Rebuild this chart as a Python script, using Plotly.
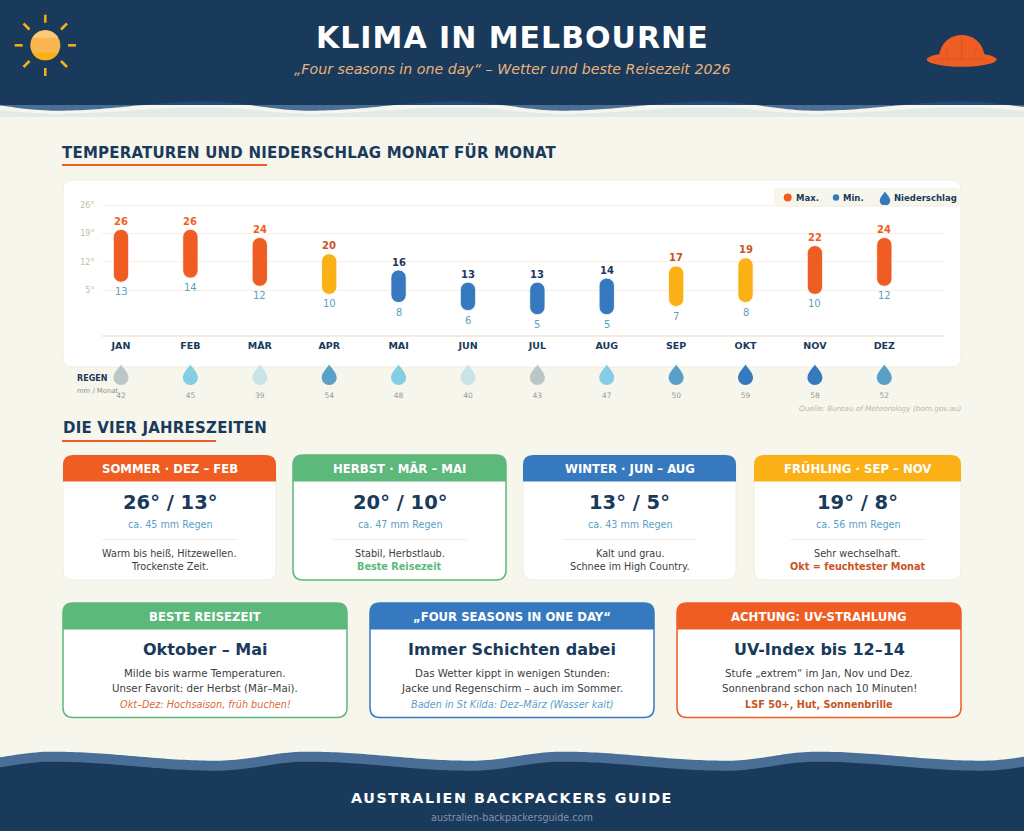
import math
import plotly.graph_objects as go

# Daten
MONATE = ['JAN', 'FEB', 'MÄR', 'APR', 'MAI', 'JUN', 'JUL', 'AUG', 'SEP', 'OKT', 'NOV', 'DEZ']
TEMP_MAX = [26, 26, 24, 20, 16, 13, 13, 14, 17, 19, 22, 24]
TEMP_MIN = [13, 14, 12, 10, 8, 6, 5, 5, 7, 8, 10, 12]
REGEN = [42, 45, 39, 54, 48, 40, 43, 47, 50, 59, 58, 52]
ACHSE_WERTE = [32, 25, 18, 11]
ACHSE_TEXTE = ['26°', '19°', '12°', '5°']

ZEIT_TITEL = ['SOMMER · DEZ – FEB', 'HERBST · MÄR – MAI', 'WINTER · JUN – AUG', 'FRÜHLING · SEP – NOV']
ZEIT_TEMP = ['26° / 13°', '20° / 10°', '13° / 5°', '19° / 8°']
ZEIT_REGEN = ['ca. 45 mm Regen', 'ca. 47 mm Regen', 'ca. 43 mm Regen', 'ca. 56 mm Regen']
ZEIT_ZEILE1 = ['Warm bis heiß, Hitzewellen.', 'Stabil, Herbstlaub.', 'Kalt und grau.', 'Sehr wechselhaft.']
ZEIT_ZEILE2 = ['Trockenste Zeit.', 'Beste Reisezeit', 'Schnee im High Country.', 'Okt = feuchtester Monat']

TIPP_TITEL = ['BESTE REISEZEIT', '„FOUR SEASONS IN ONE DAY“', 'ACHTUNG: UV-STRAHLUNG']
TIPP_GROSS = ['Oktober – Mai', 'Immer Schichten dabei', 'UV-Index bis 12–14']
TIPP_ZEILE1 = ['Milde bis warme Temperaturen.', 'Das Wetter kippt in wenigen Stunden:', 'Stufe „extrem“ im Jan, Nov und Dez.']
TIPP_ZEILE2 = ['Unser Favorit: der Herbst (Mär–Mai).', 'Jacke und Regenschirm – auch im Sommer.', 'Sonnenbrand schon nach 10 Minuten!']
TIPP_HINWEIS = ['Okt–Dez: Hochsaison, früh buchen!', 'Baden in St Kilda: Dez–März (Wasser kalt)', 'LSF 50+, Hut, Sonnenbrille']

# Farben
NAVY = '#1a3a5c'
CREME = '#f7f6ec'
ORANGE = '#f05d23'
ROST = '#c8541f'
GELB = '#fbb116'
BLAU = '#3679bf'
GRUEN = '#5db87b'
HELLBLAU = '#5a9fc6'
WELLE = '#4a6f96'
RAND = '#f1ece0'
SCHRIFT = 'DejaVu Sans'
B, H = 1024, 831


def balken_farbe(t):
    if t >= 22:
        return ORANGE
    return GELB if t >= 17 else BLAU


def label_farbe(t):
    if t >= 22:
        return ORANGE
    return ROST if t >= 17 else NAVY


def tropfen_farbe(mm):
    if mm >= 58:
        return BLAU
    if mm >= 50:
        return HELLBLAU
    if mm >= 45:
        return '#85cde3'
    return '#bcc5c8' if mm >= 42 else '#c8e3ea'


fig = go.Figure()
formen = []
texte = []


def form(pfad, farbe, linie=None, breite=0):
    formen.append(dict(type='path', xref='x', yref='y', layer='below', path=pfad, fillcolor=farbe,
                       line=dict(color=linie or farbe, width=breite)))


def strich(x0, y0, x1, y1, farbe, breite=1):
    formen.append(dict(type='line', xref='x', yref='y', layer='below', x0=x0, y0=y0, x1=x1, y1=y1,
                       line=dict(color=farbe, width=breite)))


def kreis(cx, cy, r, farbe):
    formen.append(dict(type='circle', xref='x', yref='y', layer='below', x0=cx - r, x1=cx + r, y0=cy - r, y1=cy + r,
                       fillcolor=farbe, line=dict(width=0)))


def text(x, y, s, groesse, farbe, fett=False, kursiv=False, anker='center', abstand=0):
    if abstand:
        s = f'<span style="letter-spacing:{abstand}px">{s}</span>'
    texte.append(dict(xref='x', yref='y', x=x, y=y, text=s, showarrow=False, xanchor=anker, yanchor='middle',
                      borderpad=0, borderwidth=0,
                      font=dict(family=SCHRIFT, size=groesse, color=farbe, weight='bold' if fett else 'normal',
                                style='italic' if kursiv else 'normal')))


def wert_label(monat, wert, verschiebung, farbe, fett):
    texte.append(dict(xref='x2', yref='y2', x=monat, y=wert, yshift=verschiebung, text=str(wert), showarrow=False,
                      xanchor='center', yanchor='middle', borderpad=0, borderwidth=0,
                      font=dict(family=SCHRIFT, size=10, color=farbe, weight='bold' if fett else 'normal')))


def rund(x0, y0, x1, y1, r, unten=True):
    p = f'M{x0 + r},{y0} L{x1 - r},{y0} Q{x1},{y0} {x1},{y0 + r} '
    if unten:
        p += f'L{x1},{y1 - r} Q{x1},{y1} {x1 - r},{y1} L{x0 + r},{y1} Q{x0},{y1} {x0},{y1 - r} '
    else:
        p += f'L{x1},{y1} L{x0},{y1} '
    return p + f'L{x0},{y0 + r} Q{x0},{y0} {x0 + r},{y0} Z'


def welle(x, spitze, periode, fall, y_oben, y_unten):
    pos = (x - spitze) % periode
    if pos < fall:
        anteil = (1 - math.cos(math.pi * pos / fall)) / 2
    else:
        anteil = (1 + math.cos(math.pi * (pos - fall) / (periode - fall))) / 2
    return y_oben + (y_unten - y_oben) * anteil


def flaeche(oben, unten):
    xs = list(range(0, B + 4, 4))
    p = 'M' + ' L'.join(f'{x},{oben(x):.2f}' for x in xs)
    p += ' L' + ' L'.join(f'{x},{unten(x):.2f}' for x in reversed(xs))
    return p + ' Z'


def tropfen(s=1.0):
    return (f'M0,{13 * s} C{1.5 * s},{10 * s} {7.5 * s},{5 * s} {7.5 * s},0 '
            f'C{7.5 * s},{-4.1 * s} {4.1 * s},{-7.5 * s} 0,{-7.5 * s} '
            f'C{-4.1 * s},{-7.5 * s} {-7.5 * s},{-4.1 * s} {-7.5 * s},0 '
            f'C{-7.5 * s},{5 * s} {-1.5 * s},{10 * s} 0,{13 * s} Z')


# Kopfbereich mit Wellen
w1 = lambda x: welle(x, 205, 253, 105, 101.5, 110.7)
w2 = lambda x: welle(x, 205, 253, 105, 107.3, 113.7)
form(flaeche(w2, lambda x: 117), '#e3eaea')
form(flaeche(lambda x: 105, lambda x: max(w1(x), 105)), WELLE)
form(f'M0,0 L{B},0 L{B},105 L0,105 Z', NAVY)
form(flaeche(lambda x: min(w1(x), 105), lambda x: 105), '#234c78')

# Sonne
kreis(45.3, 45.3, 15, '#f9b64e')
winkel = [3.3 + i * 1.34 for i in range(11)]
oben = [(45.3 - 15 * math.cos(a / 20 * math.pi), 45.3 - 15 * math.sin(a / 20 * math.pi)) for a in winkel]
unten = [(45.3 - 15 * math.cos(a / 20 * math.pi), 45.3 + 15 * math.sin(a / 20 * math.pi)) for a in winkel]
form('M' + ' L'.join(f'{x:.2f},{y:.2f}' for x, y in oben) + ' Z', '#fbc97c')
form('M' + ' L'.join(f'{x:.2f},{y:.2f}' for x, y in unten) + ' Z', GELB)
for x0, y0, x1, y1 in [(45.3, 14.7, 45.3, 22.7), (45.3, 68, 45.3, 76), (14.7, 45.3, 22.7, 45.3), (68, 45.3, 76, 45.3),
                       (23.5, 23.5, 29.5, 29.5), (61, 61, 67, 67), (61, 29.5, 67, 23.5), (23.5, 67, 29.5, 61)]:
    strich(x0, y0, x1, y1, GELB, 2.5)

# Hut
formen.append(dict(type='circle', xref='x', yref='y', layer='below', x0=926.7, x1=996.7, y0=52.5, y1=66.7,
                   fillcolor=ORANGE, line=dict(width=0)))
form('M938.7,59 C939.5,44 949,35 961.7,35 C974.5,35 984,44 985,59 Z', ORANGE)
for x0, y0, x1, y1 in [(961.7, 35, 961.7, 59), (946, 47.7, 949, 59), (976.7, 47.7, 973.3, 59), (938.7, 59, 985, 59)]:
    strich(x0, y0, x1, y1, '#c9502a', 0.7)

text(512, 37, 'KLIMA IN MELBOURNE', 30, 'white', fett=True, abstand=1)
text(512, 69, '„Four seasons in one day“ – Wetter und beste Reisezeit 2026', 14.2, '#e8b27a', kursiv=True)

# Temperatur-Karte
text(62, 152.3, 'TEMPERATUREN UND NIEDERSCHLAG MONAT FÜR MONAT', 15, NAVY, fett=True, anker='left', abstand=0.2)
form('M62,164 L267,164 L267,166 L62,166 Z', ORANGE)
form(rund(63, 180, 961, 367, 10), 'white', RAND, 1)

# Legende
form(rund(774, 188, 961, 207, 5), CREME)
kreis(787.7, 197.5, 4, ORANGE)
text(796, 197.5, 'Max.', 8.5, NAVY, fett=True, anker='left')
kreis(836, 197.5, 3.2, BLAU)
text(843, 197.5, 'Min.', 8.5, NAVY, fett=True, anker='left')
text(894, 197.5, 'Niederschlag', 8.5, NAVY, fett=True, anker='left')
formen.append(dict(type='path', xref='x', yref='y', xsizemode='pixel', ysizemode='pixel', xanchor=885, yanchor=200.5,
                   layer='below', path=tropfen(0.7), fillcolor=BLAU, line=dict(width=0)))

text(77, 378, 'REGEN', 8, NAVY, fett=True, anker='left')
text(77, 390.5, 'mm / Monat', 6.8, '#8f8f88', anker='left')
text(961, 408, 'Quelle: Bureau of Meteorology (bom.gov.au)', 7.3, '#bdb6a8', kursiv=True, anker='right')

# Regentropfen pro Monat
for monat, mm in zip(MONATE, REGEN):
    formen.append(dict(type='path', xref='x2', yref='y3', xsizemode='pixel', ysizemode='pixel', xanchor=monat,
                       yanchor=377.5, layer='above', path=tropfen(), fillcolor=tropfen_farbe(mm), line=dict(width=0)))

# Werte an den Balken
for monat, hoch, tief in zip(MONATE, TEMP_MAX, TEMP_MIN):
    wert_label(monat, hoch, 8, label_farbe(hoch), True)
    wert_label(monat, tief, -9.5, HELLBLAU, False)

# Jahreszeiten
text(63, 427.6, 'DIE VIER JAHRESZEITEN', 15, NAVY, fett=True, anker='left', abstand=0.2)
form('M62,440 L216,440 L216,442 L62,442 Z', ORANGE)
zeit_x = [(63, 276), (293, 506), (523, 736), (754, 961)]
zeit_farbe = [ORANGE, GRUEN, BLAU, GELB]
for i, (x0, x1) in enumerate(zeit_x):
    mitte = (x0 + x1) / 2
    farbe = zeit_farbe[i]
    form(rund(x0, 455, x1, 580, 10), 'white', GRUEN if i == 1 else RAND, 1.5 if i == 1 else 1)
    form(rund(x0, 455, x1, 481.5, 10, unten=False), farbe)
    text(mitte, 468.5, ZEIT_TITEL[i], 11.7, 'white', fett=True)
    text(mitte, 502.5, ZEIT_TEMP[i], 19.5, NAVY, fett=True)
    text(mitte, 524.5, ZEIT_REGEN[i], 9.6, HELLBLAU)
    strich(mitte - 67, 539.5, mitte + 67, 539.5, '#f5ebd8', 1)
    text(mitte, 553, ZEIT_ZEILE1[i], 9.7, '#3d3d3d')
    if i == 1:
        text(mitte, 566.5, ZEIT_ZEILE2[i], 9.7, GRUEN, fett=True)
    elif i == 3:
        text(mitte, 566.5, ZEIT_ZEILE2[i], 9.7, ROST, fett=True)
    else:
        text(mitte, 566.5, ZEIT_ZEILE2[i], 9.7, '#3d3d3d')

# Tipps
tipp_x = [(63, 347), (370, 654), (677, 961)]
tipp_farbe = [GRUEN, BLAU, ORANGE]
hinweis_farbe = ['#d96a3c', HELLBLAU, ROST]
for i, (x0, x1) in enumerate(tipp_x):
    mitte = (x0 + x1) / 2
    form(rund(x0, 603, x1, 717.5, 10), 'white', tipp_farbe[i], 1.5)
    form(rund(x0, 603, x1, 629.5, 10, unten=False), tipp_farbe[i])
    text(mitte, 616.5, TIPP_TITEL[i], 11.7, 'white', fett=True)
    text(mitte, 649, TIPP_GROSS[i], 16, NAVY, fett=True)
    text(mitte, 672.5, TIPP_ZEILE1[i], 10.25, '#3d3d3d')
    text(mitte, 687.5, TIPP_ZEILE2[i], 10.25, '#3d3d3d')
    text(mitte, 704.5, TIPP_HINWEIS[i], 9.7, hinweis_farbe[i], fett=i == 2, kursiv=i != 2)

# Fusszeile
f1 = lambda x: welle(x, 52, 255, 165, 751.7, 760.7)
f2 = lambda x: welle(x, 52, 255, 165, 761.7, 770.7)
form(flaeche(f1, lambda x: 775), WELLE)
form(flaeche(f2, lambda x: H), NAVY)
text(512, 798, 'AUSTRALIEN BACKPACKERS GUIDE', 14.3, 'white', fett=True, abstand=1.6)
text(512, 817, 'australien-backpackersguide.com', 9.6, '#7f94ab')

# leere Spur, damit die Pixel-Achsen als erste Ebene existieren
fig.add_trace(go.Scatter(x=[None], y=[None], xaxis='x', yaxis='y', showlegend=False, hoverinfo='skip'))

fig.add_trace(go.Bar(
    x=MONATE,
    y=[a - b for a, b in zip(TEMP_MAX, TEMP_MIN)],
    base=TEMP_MIN,
    width=0.22,
    xaxis='x2',
    yaxis='y2',
    marker=dict(color=[balken_farbe(t) for t in TEMP_MAX], cornerradius=7.5, line=dict(color='white', width=0.8)),
    showlegend=False,
))
fig.add_trace(go.Scatter(
    x=MONATE,
    y=[396] * len(MONATE),
    text=REGEN,
    mode='text',
    xaxis='x2',
    yaxis='y3',
    cliponaxis=False,
    textfont=dict(family=SCHRIFT, size=7.5, color='#9a9a90'),
    showlegend=False,
))

# Achse etwas ueber 32 hinaus, sonst faellt die oberste Gitterlinie weg
achse_oben = 32.25
pro_grad = 130 / 32

fig.update_layout(
    template='none',
    width=B,
    height=H,
    margin=dict(l=0, r=0, t=0, b=0),
    paper_bgcolor=CREME,
    plot_bgcolor='rgba(0,0,0,0)',
    hovermode=False,
    showlegend=False,
    shapes=formen,
    annotations=texte,
    # Pixel-Achsen fuer Karten und Texte
    xaxis=dict(domain=[0, 1], range=[0, B], visible=False, fixedrange=True, automargin=False),
    yaxis=dict(domain=[0, 1], range=[H, 0], visible=False, fixedrange=True, automargin=False),
    # Temperatur-Achsen
    xaxis2=dict(
        domain=[102 / B, 944 / B],
        anchor='y2',
        type='category',
        categoryorder='array',
        categoryarray=MONATE,
        range=[-0.274, 11.86],
        showline=True,
        linecolor='#f3ebdc',
        linewidth=1.5,
        showgrid=False,
        ticks='outside',
        ticklen=1,
        tickcolor='rgba(0,0,0,0)',
        tickfont=dict(family=SCHRIFT, size=9.5, color=NAVY, weight='bold'),
        fixedrange=True,
        automargin=False,
    ),
    yaxis2=dict(
        domain=[1 - 335 / H, 1 - (335 - achse_oben * pro_grad) / H],
        anchor='x2',
        range=[0, achse_oben],
        tickvals=ACHSE_WERTE,
        ticktext=ACHSE_TEXTE,
        showgrid=True,
        gridcolor='#f6efe4',
        gridwidth=1,
        zeroline=False,
        showline=False,
        ticks='outside',
        ticklen=5,
        tickcolor='rgba(0,0,0,0)',
        tickfont=dict(family=SCHRIFT, size=8, color='#c4bba9'),
        fixedrange=True,
        automargin=False,
    ),
    # Regen-Zeile
    yaxis3=dict(domain=[1 - 402 / H, 1 - 362 / H], anchor='x2', range=[402, 362], visible=False, fixedrange=True,
                automargin=False),
)

fig.write_html('out.html', config=dict(displayModeBar=False, responsive=False),
               post_script="document.body.style.margin='0';document.body.style.overflow='hidden';")
